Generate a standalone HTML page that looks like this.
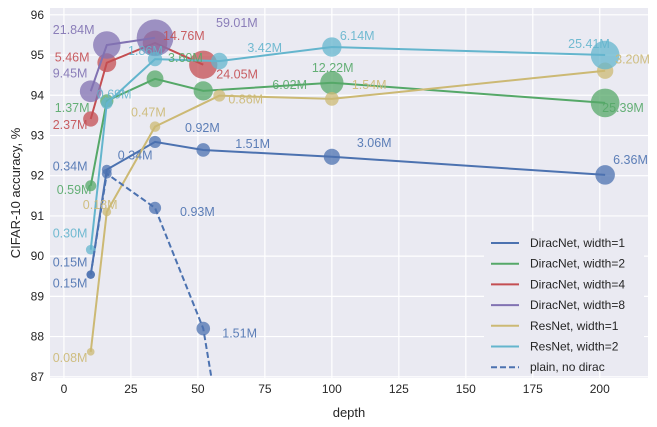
<!DOCTYPE html>
<html><head><meta charset="utf-8"><style>
html,body{margin:0;padding:0;width:657px;height:427px;overflow:hidden;background:#fff;font-family:"Liberation Sans",sans-serif}
svg{display:block;overflow:hidden}
svg text{font-family:"Liberation Sans",sans-serif}
</style></head><body>
<svg id="c" width="657" height="427"></svg>
<script>
const xTicks=[0,25,50,75,100,125,150,175,200];
const yTicks=[87,88,89,90,91,92,93,94,95,96];
const diracW1Depth=[10,16,34,52,100,202];
const diracW1Acc=[89.54,92.15,92.84,92.64,92.47,92.02];
const diracW1Params=[0.15,0.34,0.92,1.51,3.06,6.36];
const diracW2Depth=[10,16,34,52,100,202];
const diracW2Acc=[91.75,93.86,94.41,94.11,94.31,93.81];
const diracW2Params=[0.59,1.37,3.60,6.02,12.22,25.39];
const diracW4Depth=[10,16,34,52];
const diracW4Acc=[93.41,94.81,95.30,94.76];
const diracW4Params=[2.37,5.46,14.76,24.05];
const diracW8Depth=[10,16,34];
const diracW8Acc=[94.10,95.25,95.43];
const diracW8Params=[9.45,21.84,59.01];
const resW1Depth=[10,16,34,58,100,202];
const resW1Acc=[87.62,91.10,93.22,93.99,93.91,94.61];
const resW1Params=[0.08,0.18,0.47,0.86,1.54,3.20];
const resW2Depth=[10,16,34,58,100,202];
const resW2Acc=[90.16,93.80,94.90,94.85,95.20,95.00];
const resW2Params=[0.30,0.69,1.86,3.42,6.14,25.41];
const plainDepth=[10,16,34,52,100];
const plainAcc=[89.54,92.05,91.20,88.20,69.0];
const plainParams=[0.15,0.34,0.93,1.51,null];

const L=50,R=648,T=8,B=378,X0=-5.2,X1=218,Y0=86.97,Y1=96.17;
const sx=v=>L+(v-X0)/(X1-X0)*(R-L);
const sy=v=>B-(v-Y0)/(Y1-Y0)*(B-T);
const NS='http://www.w3.org/2000/svg';
const svg=document.getElementById('c');
function mk(t,a,p){const e=document.createElementNS(NS,t);for(const k in a)e.setAttribute(k,a[k]);(p||svg).appendChild(e);return e;}
const bg=mk('rect',{x:L,y:T,width:R-L,height:B-T,fill:'#EAEAF2'});


const defs=mk('defs',{});const cp=mk('clipPath',{id:'clip'},defs);mk('rect',{x:L,y:T,width:R-L,height:B-T},cp);
xTicks.forEach(t=>{
 const g=mk('line',{x1:sx(t),x2:sx(t),y1:T,y2:B,stroke:'#fff','stroke-width':1.2});
 
 
 const tx=mk('text',{x:sx(t),y:B+15,'text-anchor':'middle','font-size':12,fill:'#262626'});tx.textContent=t;
 
 
});
yTicks.forEach(t=>{
 const g=mk('line',{x1:L,x2:R,y1:sy(t),y2:sy(t),stroke:'#fff','stroke-width':1.2});
 
 
 const tx=mk('text',{x:L-6,y:sy(t)+4,'text-anchor':'end','font-size':12,fill:'#262626'});tx.textContent=t;
 
 
});
const xl=mk('text',{x:(L+R)/2,y:417,'text-anchor':'middle','font-size':13,fill:'#262626'});xl.textContent='depth';


const yl=mk('text',{x:0,y:0,transform:'translate(20,'+(T+B)/2+') rotate(-90)','text-anchor':'middle','font-size':13,fill:'#262626'});yl.textContent='CIFAR-10 accuracy, %';



const series=[
 {n:'diracnet-w1',label:'DiracNet, width=1',c:'#4C72B0',d:diracW1Depth,a:diracW1Acc,p:diracW1Params,off:[[-38,13],[-54,1],[30,-10],[32,-2],[25,-10],[8,-11]]},
 {n:'diracnet-w2',label:'DiracNet, width=2',c:'#55A868',d:diracW2Depth,a:diracW2Acc,p:diracW2Params,off:[[-34,8],[-52,11],[13,-17],[69,-2],[-20,-11],[-3,9]]},
 {n:'diracnet-w4',label:'DiracNet, width=4',c:'#C44E52',d:diracW4Depth,a:diracW4Acc,p:diracW4Params,off:[[-38,10],[-52,-1],[8,-3],[13,14]]},
 {n:'diracnet-w8',label:'DiracNet, width=8',c:'#8172B2',d:diracW8Depth,a:diracW8Acc,p:diracW8Params,off:[[-38,-14],[-54,-11],[61,-11]]},
 {n:'resnet-w1',label:'ResNet, width=1',c:'#CCB974',d:resW1Depth,a:resW1Acc,p:resW1Params,off:[[-38,10],[-24,-3],[-24,-10],[9,8],[20,-10],[10,-7]]},
 {n:'resnet-w2',label:'ResNet, width=2',c:'#64B5CD',d:resW2Depth,a:resW2Acc,p:resW2Params,off:[[-38,-12],[-10,-5],[-27,-4],[28,-9],[8,-7],[-37,-7]]},
 {n:'plain-no-dirac',label:'plain, no dirac',c:'#4C72B0',d:plainDepth,a:plainAcc,p:plainParams,dash:true,off:[[-38,-8],[11,-14],[25,8],[19,9],[0,0]]}
];
const rad=p=>2+4.2*Math.cbrt(p);
function clipPts(d,a){
 const out=[];
 for(let i=0;i<d.length;i++){
  if(a[i]>=Y0){out.push([d[i],a[i]]);continue;}
  if(i>0&&a[i-1]>=Y0){
   const f=(a[i-1]-Y0)/(a[i-1]-a[i]);
   out.push([d[i-1]+f*(d[i]-d[i-1]),Y0]);
  }
  break;
 }
 return out;
}
series.forEach(s=>{
 const g=mk('g',{'clip-path':'url(#clip)'});
 
 
 const pts=clipPts(s.d,s.a).map(q=>sx(q[0])+','+sy(q[1])).join(' ');
 const ln=mk('polyline',{points:pts,fill:'none',stroke:s.c,'stroke-width':2,'stroke-dasharray':s.dash?'6,3':'none'},g);
 
 
 s.d.forEach((d,i)=>{
  if(s.p[i]==null||s.a[i]<Y0)return;
  const m=mk('circle',{cx:sx(d),cy:sy(s.a[i]),r:rad(s.p[i]),fill:s.c,'fill-opacity':0.75},g);
  
  
 });
});
series.forEach(s=>{
 s.d.forEach((d,i)=>{
  if(s.p[i]==null||s.a[i]<Y0)return;
  const o=s.off[i];
  const t=mk('text',{x:sx(d)+o[0],y:sy(s.a[i])+o[1],'font-size':12.5,fill:s.c,'fill-opacity':0.9});
  t.textContent=s.p[i].toFixed(2)+'M';
  
  
 });
});
const lg=mk('g',{});


mk('rect',{x:484,y:231,width:160,height:140,fill:'#EAEAF2',stroke:'none'},lg);
series.forEach((s,i)=>{
 const y=243+i*20.7;
 const e=mk('g',{},lg);
 
 
 mk('line',{x1:491,x2:519,y1:y,y2:y,stroke:s.c,'stroke-width':2,'stroke-dasharray':s.dash?'6,3':'none'},e);
 const t=mk('text',{x:530,y:y+4,'font-size':12,fill:'#262626'},e);t.textContent=s.label;
});
</script>
</body></html>
